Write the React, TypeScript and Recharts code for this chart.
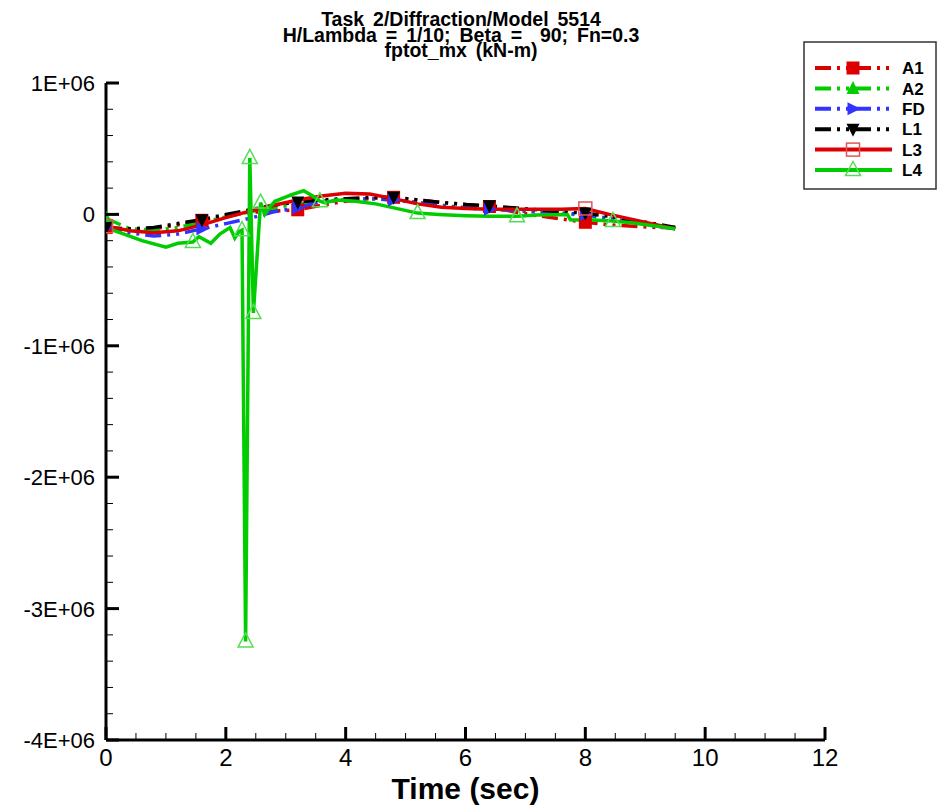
import { LineChart, Line, XAxis, YAxis } from "recharts"

// common time grid for the smooth runs (sec)
const time = [0, 0.4, 0.8, 1.2, 1.6, 2.0, 2.4, 2.8, 3.2, 3.6, 4.0, 4.4, 4.8, 5.2, 5.6, 6.0, 6.4, 6.8, 7.2, 7.6, 8.0, 8.4, 8.8, 9.2, 9.5]

const a1 = [-100000, -120000, -110000, -80000, -45000, -10000, 15000, 25000, 35000, 70000, 100000, 120000, 130000, 110000, 90000, 75000, 60000, 20000, -10000, -35000, -60000, -80000, -90000, -100000, -100000]
const a2 = [-30000, -110000, -120000, -100000, -60000, -20000, 20000, 50000, 80000, 100000, 110000, 120000, 110000, 90000, 70000, 50000, 40000, 30000, 20000, 10000, -10000, -30000, -60000, -90000, -100000]
const fd = [-100000, -140000, -165000, -150000, -110000, -70000, -30000, 20000, 50000, 100000, 110000, 120000, 110000, 90000, 65000, 50000, 40000, 30000, 20000, 10000, 0, -30000, -60000, -90000, -110000]
const l1 = [-100000, -110000, -100000, -70000, -40000, 0, 35000, 70000, 95000, 110000, 120000, 130000, 130000, 110000, 90000, 75000, 65000, 50000, 35000, 20000, 10000, -15000, -45000, -75000, -100000]
const l3 = [-90000, -125000, -140000, -125000, -80000, -25000, 25000, 70000, 110000, 140000, 160000, 155000, 120000, 80000, 55000, 45000, 40000, 40000, 40000, 40000, 45000, 0, -40000, -80000, -110000]

// L4 has its own, denser time base around the spike
const l4Time = [0, 0.3, 0.6, 1.0, 1.2, 1.45, 1.55, 1.75, 1.9, 2.07, 2.15, 2.22, 2.27, 2.33, 2.4, 2.46, 2.58, 2.65, 2.74, 2.82, 3.1, 3.3, 3.45, 3.57, 3.65, 3.85, 4.16, 4.5, 4.9, 5.2, 5.55, 6.0, 6.4, 6.86, 7.2, 7.7, 7.75, 8.2, 8.46, 8.8, 9.2, 9.5]
const l4 = [-100000, -150000, -200000, -250000, -220000, -210000, -170000, -220000, -150000, -100000, -180000, -130000, -120000, -3250000, 430000, -750000, 90000, 0, 60000, 100000, 150000, 180000, 140000, 100000, 90000, 110000, 100000, 80000, 40000, 10000, 0, -10000, -15000, -15000, -5000, 0, -40000, -45000, -50000, -65000, -90000, -110000]

// where symbols are drawn on each curve
const a1Marks = [0, 1.6, 3.2, 4.8, 6.4, 8.0]
const a2Marks = [0]
const fdMarks = [0, 1.6, 3.2, 4.8, 6.4, 8.0]
const l1Marks = [0, 1.6, 3.2, 4.8, 6.4, 8.0]
const l3Marks = [0, 8.0]
const l4Marks = [1.45, 2.27, 2.33, 2.4, 2.46, 2.58, 3.57, 5.2, 6.86, 8.46]

const xMajor = [0, 2, 4, 6, 8, 10, 12]
const yMajor = [-4000000, -3000000, -2000000, -1000000, 0, 1000000]

const titleLines = ["Task 2/Diffraction/Model 5514", "H/Lambda = 1/10; Beta =  90; Fn=0.3", "fptot_mx (kN-m)"]

const xTicks: number[] = []
for (let i = 0; i <= 24; i++) xTicks.push(i * 0.5)
const yTicks: number[] = []
for (let i = 0; i <= 25; i++) yTicks.push(-4000000 + i * 200000)

const FONT = "'Liberation Sans', Arial, Helvetica, sans-serif"
const NARROW = "'Liberation Sans Narrow', 'Arial Narrow', 'Liberation Sans', Arial, sans-serif"
const DDOT = "16 6 3 6 3 6"

const build = (t: number[], v: number[], marks: number[]) =>
  t.map((x, i) => ({ t: x, v: v[i], m: marks.includes(x) }))

type Kind = "square" | "up" | "right" | "down" | "openSquare" | "openUp"

const series = [
  { name: "A1", color: "#dd0000", dash: DDOT, kind: "square" as Kind, data: build(time, a1, a1Marks) },
  { name: "A2", color: "#00cc00", dash: DDOT, kind: "up" as Kind, data: build(time, a2, a2Marks) },
  { name: "FD", color: "#3333ff", dash: DDOT, kind: "right" as Kind, data: build(time, fd, fdMarks) },
  { name: "L1", color: "#000000", dash: DDOT, kind: "down" as Kind, data: build(time, l1, l1Marks) },
  { name: "L3", color: "#dd0000", dash: undefined, kind: "openSquare" as Kind, data: build(time, l3, l3Marks) },
  { name: "L4", color: "#00cc00", dash: undefined, kind: "openUp" as Kind, data: build(l4Time, l4, l4Marks) },
]

function Marker({ kind, cx, cy, color }: { kind: Kind; cx: number; cy: number; color: string }) {
  const s = 6.5
  switch (kind) {
    case "square":
      return <rect x={cx - s} y={cy - s} width={2 * s} height={2 * s} fill={color} />
    case "up":
      return <polygon points={`${cx},${cy - s - 1} ${cx + s},${cy + s - 1} ${cx - s},${cy + s - 1}`} fill={color} />
    case "right":
      return <polygon points={`${cx + s + 1},${cy} ${cx - s + 1},${cy - s} ${cx - s + 1},${cy + s}`} fill={color} />
    case "down":
      return <polygon points={`${cx},${cy + s + 1} ${cx + s},${cy - s + 1} ${cx - s},${cy - s + 1}`} fill={color} />
    case "openSquare":
      return <rect x={cx - s} y={cy - s} width={2 * s} height={2 * s} fill="none" stroke="#e35555" strokeWidth={1.5} />
    case "openUp":
      return <polygon points={`${cx},${cy - s - 2} ${cx + s + 1},${cy + s - 1} ${cx - s - 1},${cy + s - 1}`} fill="none" stroke="#55dd55" strokeWidth={1.5} />
  }
  return null
}

const XTick = (props: any) => {
  const { x, y, payload } = props
  const v = payload.value
  const major = xMajor.includes(v)
  const ay = y - 8
  return (
    <g>
      <line x1={x} x2={x} y1={ay} y2={ay - (major ? 13 : 7)} stroke="#000" strokeWidth={major ? 3 : 1} />
      {major && (
        <text x={x} y={ay + 9} dy="0.71em" textAnchor="middle" fontFamily={NARROW} fontSize={24} fill="#000">
          {v}
        </text>
      )}
    </g>
  )
}

const yLabel = (v: number) => (v === 0 ? "0" : `${v / 1000000}E+06`)

const YTick = (props: any) => {
  const { x, y, payload } = props
  const v = payload.value
  const major = yMajor.includes(v)
  const ax = x + 10
  return (
    <g>
      <line x1={ax} x2={ax + (major ? 13 : 7)} y1={y} y2={y} stroke="#000" strokeWidth={major ? 3 : 1} />
      {major && (
        <text x={x - 1} y={y} dy="0.36em" textAnchor="end" fontFamily={FONT} fontSize={22} fill="#000">
          {yLabel(v)}
        </text>
      )}
    </g>
  )
}

function LegendBox() {
  return (
    <svg width={134} height={149} style={{ position: "absolute", left: 803, top: 41 }}>
      <rect x={1} y={1} width={132} height={147} fill="#fff" stroke="#333" strokeWidth={1.5} />
      {series.map((s, i) => {
        const y = 27 + i * 20.4
        return (
          <g key={s.name}>
            <line x1={12} x2={89} y1={y} y2={y} stroke={s.color} strokeWidth={4} strokeDasharray={s.dash} />
            <Marker kind={s.kind} cx={50} cy={y} color={s.color} />
            <text x={99} y={y} dy="0.36em" fontFamily={FONT} fontWeight="bold" fontSize={17} fill="#000">
              {s.name}
            </text>
          </g>
        )
      })}
    </svg>
  )
}

export default function App() {
  return (
    <div style={{ position: "absolute", left: 0, top: 0, width: 941, height: 805, background: "#fff" }}>
      <svg width={941} height={62} style={{ position: "absolute", left: 0, top: 0 }}>
        {titleLines.map((t, i) => (
          <text
            key={i}
            x={461}
            y={26 + i * 15.5}
            textAnchor="middle"
            fontFamily={FONT}
            fontWeight="bold"
            fontSize={19.5}
            wordSpacing={3.5}
            style={{ whiteSpace: "pre" }}
            fill="#000"
          >
            {t}
          </text>
        ))}
      </svg>
      <LineChart width={941} height={805} margin={{ top: 83, right: 116, bottom: 0, left: 0 }}>
        <XAxis
          type="number"
          dataKey="t"
          domain={[0, 12]}
          ticks={xTicks}
          interval={0}
          allowDataOverflow
          height={65}
          tickSize={0}
          tickMargin={8}
          tickLine={false}
          axisLine={{ stroke: "#000", strokeWidth: 3 }}
          tick={<XTick />}
          label={{
            value: "Time (sec)",
            position: "insideBottom",
            offset: 6,
            style: { fontFamily: NARROW, fontWeight: "bold", fontSize: 30, fill: "#000" },
          }}
        />
        <YAxis
          type="number"
          dataKey="v"
          domain={[-4000000, 1000000]}
          ticks={yTicks}
          interval={0}
          allowDataOverflow
          width={106}
          tickSize={0}
          tickMargin={10}
          tickLine={false}
          axisLine={{ stroke: "#000", strokeWidth: 3 }}
          tick={<YTick />}
        />
        {series.map((s) => (
          <Line
            key={s.name}
            data={s.data}
            dataKey="v"
            name={s.name}
            type="linear"
            stroke={s.color}
            strokeWidth={3.5}
            strokeDasharray={s.dash}
            isAnimationActive={false}
            activeDot={false}
            dot={(p: any) =>
              p.payload.m ? (
                <Marker key={`${s.name}-${p.index}`} kind={s.kind} cx={p.cx} cy={p.cy} color={s.color} />
              ) : (
                <g key={`${s.name}-${p.index}`} />
              )
            }
          />
        ))}
      </LineChart>
      <LegendBox />
    </div>
  )
}
